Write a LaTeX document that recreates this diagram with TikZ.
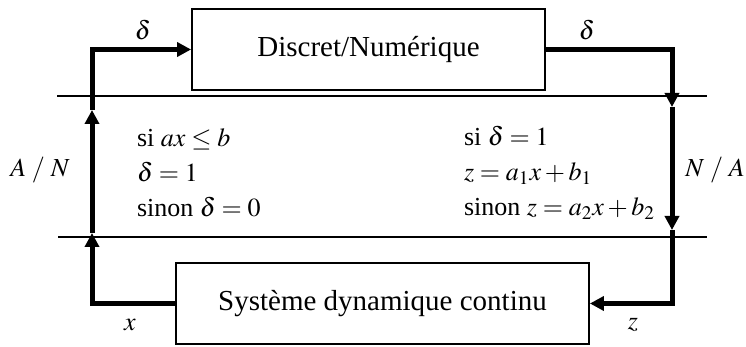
\documentclass[tikz,border=0pt]{standalone}
\usepackage{mathptmx}
\usepackage{fontspec}
\setmainfont{Liberation Serif}
\usetikzlibrary{arrows.meta, positioning}

\begin{document}
\begin{tikzpicture}[x=0.5pt, y=-0.5pt,
    bloc/.style={draw, line width=0.9pt, inner sep=0pt, minimum height=40.5pt,
      font=\fontsize{14.5}{17}\selectfont},
    wire/.style={line width=2.5pt, -{Triangle[length=7pt,width=7pt]}},
    sep/.style={line width=0.6pt},
    lbl/.style={font=\fontsize{13}{17.5}\selectfont}]
  \useasboundingbox (0,0) rectangle (746,347);
  \node (disc) [bloc, minimum width=176.5pt] at (368.5,49.5) {Discret/Numérique};
  \node (cont) [bloc, minimum width=206.5pt] at (382.5,303.5) {Système dynamique continu};
  % conversion boundaries
  \coordinate (h1l) at (57,96);
  \coordinate (h1r) at (707,96);
  \coordinate (h2l) at (58,237);
  \coordinate (h2r) at (707,237);
  \draw[sep] (h1l) -- (h1r);
  \draw[sep] (h2l) -- (h2r);
  % A/N side
  \coordinate (an1) at (92,233);
  \coordinate (an2) at (92,110);
  \draw[wire] (cont.west) -| (an1);
  \draw[wire] (an1) -- (an2);
  \draw[wire] (an2) |- (disc.west);
  % N/A side
  \coordinate (na1) at (672,107);
  \coordinate (na2) at (672,230);
  \draw[wire] (disc.east) -| (na1);
  \draw[wire] (na1) -- (na2);
  \draw[wire] (na2) |- (cont.east);
  % labels
  \node (dl) [lbl] at (143,30) {$\delta$};
  \node (dr) [lbl] at (587,30) {$\delta$};
  \node (xl) [lbl] at (130,325) {$x$};
  \node (zl) [lbl] at (633,325) {$z$};
  \node (an) [lbl] at (40,170) {$A\;/\;N$};
  \node (na) [lbl] at (715,170) {$N\;/\;A$};
  \node (condl) [lbl, align=left, anchor=west] at (130,173)
    {si $ax\le b$\\ $\delta=1$\\ sinon $\delta=0$};
  \node (condr) [lbl, align=left, anchor=west] at (457,173)
    {si $\delta=1$\\ $z=a_1x+b_1$\\ sinon $z=a_2x+b_2$};
\end{tikzpicture}
\end{document}
